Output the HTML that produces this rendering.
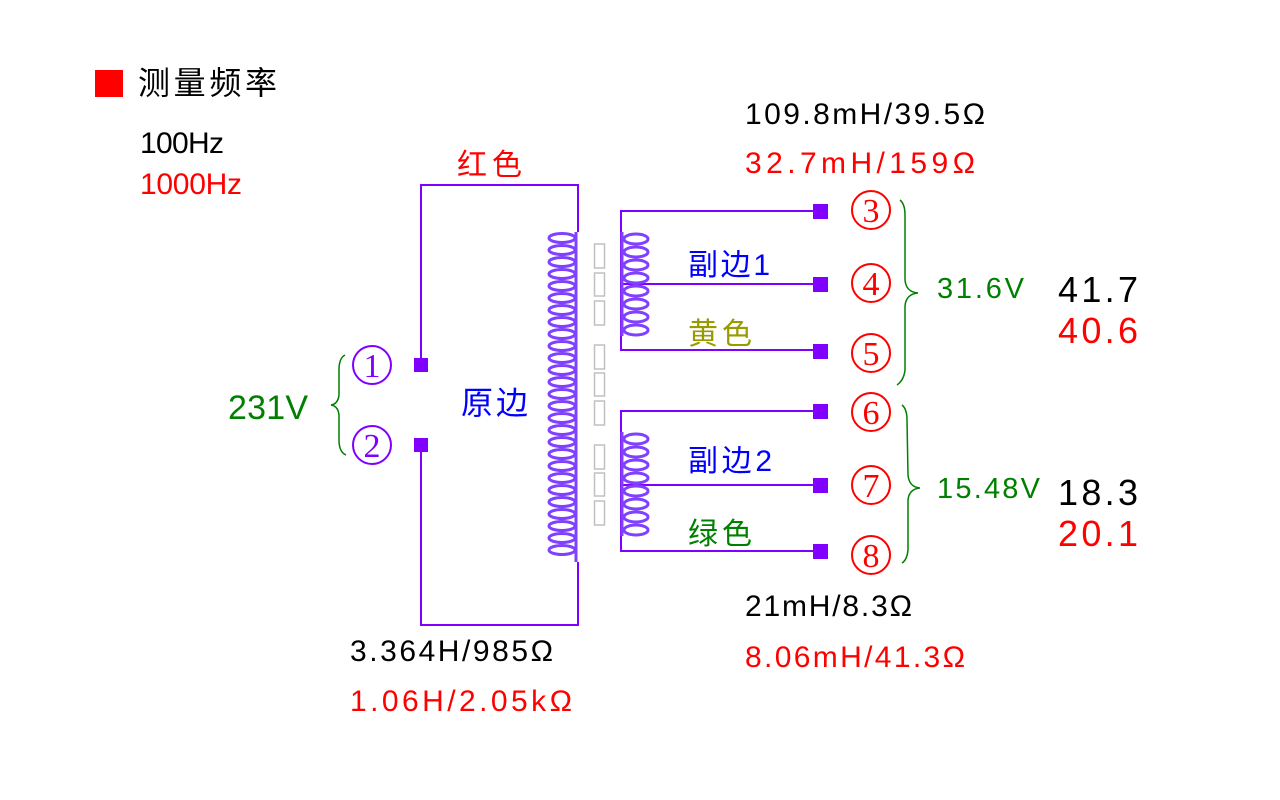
<!DOCTYPE html>
<html><head><meta charset="utf-8"><style>
html,body{margin:0;padding:0;background:#fff;}
svg{display:block}
text{font-family:"Liberation Sans","Noto Sans CJK SC",sans-serif;}
.s{font-family:"Liberation Serif",serif;}
</style></head><body>
<svg width="1280" height="800" viewBox="0 0 1280 800" xmlns="http://www.w3.org/2000/svg">
<rect x="95" y="70" width="28" height="27" fill="#ff0000"/>
<text x="138" y="94" font-size="32" fill="#000" textLength="139">测量频率</text>
<text x="140" y="153" font-size="30" fill="#000" textLength="84">100Hz</text>
<text x="140" y="194" font-size="30" fill="#ff0000" textLength="102">1000Hz</text>

<g stroke="#7f00ff" stroke-width="2" fill="none">
<polyline points="421,365 421,185 578,185 578,232"/>
<polyline points="421,445 421,625 578,625 578,562"/>
<polyline points="820,211 621,211 621,350 820,350"/>
<line x1="621" y1="284" x2="820" y2="284"/>
<polyline points="820,411 621,411 621,551 820,551"/>
<line x1="621" y1="485" x2="820" y2="485"/>
</g>
<g fill="#7f00ff">
<rect x="414" y="358" width="14" height="14"/><rect x="414" y="438" width="14" height="14"/>
<rect x="813" y="204" width="15" height="15"/><rect x="813" y="277" width="15" height="15"/><rect x="813" y="344" width="15" height="15"/>
<rect x="813" y="404" width="15" height="15"/><rect x="813" y="478" width="15" height="15"/><rect x="813" y="544" width="15" height="15"/>
</g>
<defs>
<ellipse id="pl" cx="562" cy="0" rx="13" ry="4.5" fill="none" stroke="#8040ff" stroke-width="3"/>
<ellipse id="sl" cx="636" cy="0" rx="12" ry="5" fill="none" stroke="#8040ff" stroke-width="3"/>
</defs>
<line x1="576" y1="232" x2="576" y2="562" stroke="#8040ff" stroke-width="3"/>
<g>
<use href="#pl" y="238"/><use href="#pl" y="250"/><use href="#pl" y="262"/><use href="#pl" y="274"/><use href="#pl" y="286"/><use href="#pl" y="298"/><use href="#pl" y="310"/><use href="#pl" y="322"/><use href="#pl" y="334"/><use href="#pl" y="346"/><use href="#pl" y="358"/><use href="#pl" y="370"/><use href="#pl" y="382"/><use href="#pl" y="394"/><use href="#pl" y="406"/><use href="#pl" y="418"/><use href="#pl" y="430"/><use href="#pl" y="442"/><use href="#pl" y="454"/><use href="#pl" y="466"/><use href="#pl" y="478"/><use href="#pl" y="490"/><use href="#pl" y="502"/><use href="#pl" y="514"/><use href="#pl" y="526"/><use href="#pl" y="538"/><use href="#pl" y="550"/>
</g>
<line x1="622" y1="232" x2="622" y2="336" stroke="#8040ff" stroke-width="3"/>
<line x1="622" y1="432" x2="622" y2="536" stroke="#8040ff" stroke-width="3"/>
<g>
<use href="#sl" y="239"/><use href="#sl" y="252"/><use href="#sl" y="265"/><use href="#sl" y="278"/><use href="#sl" y="291"/><use href="#sl" y="304"/><use href="#sl" y="317"/><use href="#sl" y="330"/>
<use href="#sl" y="439"/><use href="#sl" y="452"/><use href="#sl" y="465"/><use href="#sl" y="478"/><use href="#sl" y="491"/><use href="#sl" y="504"/><use href="#sl" y="517"/><use href="#sl" y="530"/>
</g>
<g fill="none" stroke="#c0c0c0" stroke-width="1.5">
<rect x="594.5" y="244" width="10" height="24"/><rect x="594.5" y="273" width="10" height="23"/><rect x="594.5" y="301" width="10" height="24"/>
<rect x="594.5" y="345" width="10" height="24"/><rect x="594.5" y="373" width="10" height="23"/><rect x="594.5" y="401" width="10" height="24"/>
<rect x="594.5" y="445" width="10" height="24"/><rect x="594.5" y="473" width="10" height="23"/><rect x="594.5" y="501" width="10" height="24"/>
</g>
<g fill="none" stroke-width="2">
<circle cx="372" cy="365" r="19" stroke="#8000ff"/><circle cx="372" cy="445" r="19" stroke="#8000ff"/>
<g stroke="#ff0000">
<circle cx="871" cy="210" r="19"/><circle cx="871" cy="283" r="19"/><circle cx="871" cy="353" r="19"/>
<circle cx="871" cy="412" r="19"/><circle cx="871" cy="485" r="19"/><circle cx="871" cy="555" r="19"/>
</g></g>
<g font-size="34" text-anchor="middle">
<text x="372" y="377" fill="#8000ff" class="s">1</text><text x="372" y="457" fill="#8000ff" class="s">2</text>
<text x="871" y="222" fill="#ff0000" class="s">3</text><text x="871" y="295" fill="#ff0000" class="s">4</text><text x="871" y="365" fill="#ff0000" class="s">5</text>
<text x="871" y="424" fill="#ff0000" class="s">6</text><text x="871" y="497" fill="#ff0000" class="s">7</text><text x="871" y="567" fill="#ff0000" class="s">8</text>
</g>
<g fill="none" stroke="#008000" stroke-width="1.5">
<path d="M345,355 Q339,358 339,370 L339,395 Q338,404 331,405 Q338,406 339,415 L339,440 Q339,452 346,455"/>
<path d="M900,200 Q905,204 905,215 L905,280 Q906,292 918,293 Q906,294 905,306 L905,370 Q904,380 897,385"/>
<path d="M902,405 Q907,409 907,420 L908,475 Q909,487 920,488 Q909,489 908,500 L908,550 Q907,560 902,563"/>
</g>
<text x="457" y="175" font-size="30" fill="#ff0000" textLength="65">红色</text>
<text x="745" y="124" font-size="30" fill="#000" textLength="240">109.8mH/39.5Ω</text>
<text x="745" y="173" font-size="30" fill="#ff0000" textLength="230">32.7mH/159Ω</text>
<text x="688" y="275" font-size="30" fill="#0000ff" textLength="82">副边1</text>
<text x="688" y="344" font-size="30" fill="#999900" textLength="64">黄色</text>
<text x="461" y="414" font-size="32" fill="#0000ff" textLength="67">原边</text>
<text x="228" y="419" font-size="34" fill="#008000" textLength="80">231V</text>
<text x="937" y="298" font-size="29" fill="#008000" textLength="87">31.6V</text>
<text x="1058" y="302" font-size="36" fill="#000" textLength="80">41.7</text>
<text x="1058" y="343" font-size="36" fill="#ff0000" textLength="80">40.6</text>
<text x="688" y="471" font-size="30" fill="#0000ff" textLength="84">副边2</text>
<text x="688" y="544" font-size="30" fill="#008000" textLength="64">绿色</text>
<text x="937" y="498" font-size="29" fill="#008000" textLength="103">15.48V</text>
<text x="1058" y="505" font-size="36" fill="#000" textLength="80">18.3</text>
<text x="1058" y="546" font-size="36" fill="#ff0000" textLength="80">20.1</text>
<text x="745" y="616" font-size="30" fill="#000" textLength="167">21mH/8.3Ω</text>
<text x="745" y="667" font-size="30" fill="#ff0000" textLength="220">8.06mH/41.3Ω</text>
<text x="350" y="661" font-size="30" fill="#000" textLength="203">3.364H/985Ω</text>
<text x="350" y="711" font-size="30" fill="#ff0000" textLength="222">1.06H/2.05kΩ</text>
</svg>
</body></html>
